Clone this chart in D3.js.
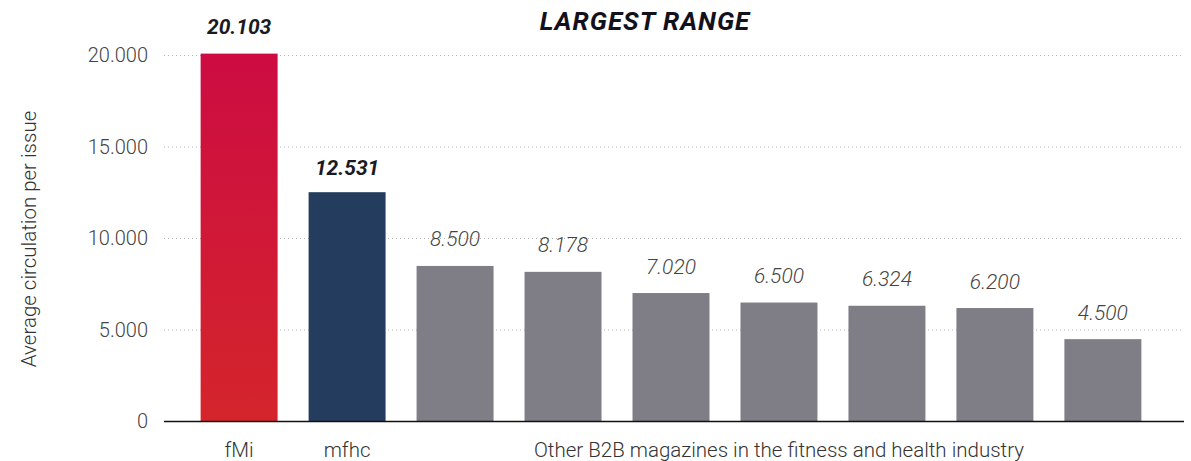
<!DOCTYPE html>
<html>
<head>
<meta charset="utf-8">
<script src="https://cdn.jsdelivr.net/npm/d3@7"></script>
<style>
    body { margin: 0; background: #fff; }
    text { font-family: Roboto, "Noto Sans", sans-serif; }
</style>
</head>
<body>
<div id="chart"></div>
<script>
const magazines = ["fMi", "mfhc", "o1", "o2", "o3", "o4", "o5", "o6", "o7"];
const circulation = [20103, 12531, 8500, 8178, 7020, 6500, 6324, 6200, 4500];
const valueLabels = ["20.103", "12.531", "8.500", "8.178", "7.020", "6.500", "6.324", "6.200", "4.500"];
const yTicks = [0, 5000, 10000, 15000, 20000];
const yTickLabels = ["0", "5.000", "10.000", "15.000", "20.000"];
const barColors = ["url(#redGrad)", "#243d5f", "#7f7e87", "#7f7e87", "#7f7e87", "#7f7e87", "#7f7e87", "#7f7e87", "#7f7e87"];

const width = 1191, height = 461;
const left = 164, right = 1184, bottom = 421.5;

const svg = d3.select("#chart")
    .append("svg")
    .attr("width", width)
    .attr("height", height);

let grad = svg.append("defs").append("linearGradient")
    .attr("id", "redGrad")
    .attr("x1", 0).attr("y1", 0).attr("x2", 0).attr("y2", 1);
grad.append("stop").attr("offset", "0%").attr("stop-color", "#cc0c42");
grad.append("stop").attr("offset", "100%").attr("stop-color", "#d4252b");

const x = d3.scaleBand()
    .domain(magazines)
    .range([165, 1177])
    .paddingInner(0.287)
    .paddingOuter(0.33);

const y = d3.scaleLinear()
    .domain([0, 20000])
    .range([bottom, 55.5]);

// gridlines
svg.append("g")
    .selectAll("line")
    .data(yTicks.filter(d => d > 0))
    .enter()
    .append("line")
    .attr("x1", left)
    .attr("x2", right)
    .attr("y1", d => y(d))
    .attr("y2", d => y(d))
    .attr("stroke", "#b5b5b5")
    .attr("stroke-width", 1)
    .style("stroke-dasharray", "1, 3");

// y axis labels
let yAxis = d3.axisLeft(y)
    .tickValues(yTicks)
    .tickFormat((d, i) => yTickLabels[i])
    .tickSize(0)
    .tickPadding(0);

let yg = svg.append("g")
    .attr("transform", "translate(148,0)")
    .call(yAxis);
yg.select(".domain").remove();
yg.selectAll("text")
    .style("font-family", "Roboto, sans-serif")
    .style("font-size", "20px")
    .style("font-weight", "300")
    .style("fill", "#444");

// bars
svg.selectAll("rect.bar")
    .data(circulation)
    .enter()
    .append("rect")
    .attr("class", "bar")
    .attr("x", (d, i) => x(magazines[i]))
    .attr("width", x.bandwidth())
    .attr("y", d => y(d))
    .attr("height", d => bottom - y(d))
    .attr("fill", (d, i) => barColors[i]);

// value labels
svg.selectAll("text.val")
    .data(circulation)
    .enter()
    .append("text")
    .attr("class", "val")
    .attr("x", (d, i) => x(magazines[i]) + x.bandwidth() / 2)
    .attr("y", (d, i) => y(d) - (i == 1 ? 17 : 19.5))
    .attr("text-anchor", "middle")
    .style("font-size", "21px")
    .style("font-style", "italic")
    .style("font-weight", (d, i) => i < 2 ? "bold" : "300")
    .style("fill", (d, i) => i < 2 ? "#1a1a22" : "#444")
    .text((d, i) => valueLabels[i]);

// baseline
svg.append("line")
    .attr("x1", left)
    .attr("x2", right)
    .attr("y1", bottom)
    .attr("y2", bottom)
    .attr("stroke", "#111")
    .attr("stroke-width", 1.5);

// x labels
const groupLabels = [
    { text: "fMi", from: "fMi", to: "fMi" },
    { text: "mfhc", from: "mfhc", to: "mfhc" },
    { text: "Other B2B magazines in the fitness and health industry", from: "o1", to: "o7" }
];
svg.selectAll("text.xlab")
    .data(groupLabels)
    .enter()
    .append("text")
    .attr("class", "xlab")
    .attr("x", d => (x(d.from) + x(d.to) + x.bandwidth()) / 2)
    .attr("y", 457)
    .attr("text-anchor", "middle")
    .style("font-size", "20.5px")
    .style("font-weight", "300")
    .style("fill", "#333")
    .text(d => d.text);

// title
svg.append("text")
    .attr("x", 645)
    .attr("y", 30)
    .attr("text-anchor", "middle")
    .style("font-size", "26px")
    .style("font-weight", "bold")
    .style("font-style", "italic")
    .style("letter-spacing", "1px")
    .style("fill", "#12111c")
    .text("LARGEST RANGE");

// y axis title
svg.append("text")
    .attr("transform", "translate(36,239) rotate(-90)")
    .attr("text-anchor", "middle")
    .style("font-size", "20.5px")
    .style("font-weight", "300")
    .style("fill", "#333")
    .text("Average circulation per issue");
</script>
</body>
</html>
